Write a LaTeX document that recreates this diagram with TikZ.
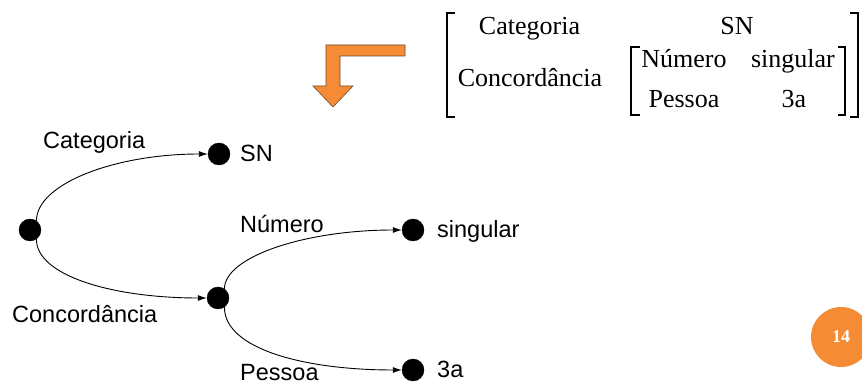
\documentclass[tikz,border=0pt]{standalone}
\usepackage{fontspec}
\setmainfont{Liberation Serif}
\newfontfamily\arialfont{Liberation Sans}
\usetikzlibrary{arrows.meta}
\definecolor{slideorange}{HTML}{F68B35}
\definecolor{arrowrim}{HTML}{6E4A2C}

\begin{document}
\begin{tikzpicture}[x=1pt,y=1pt,inner sep=0pt,
  dot/.style={circle,draw=black,fill=black,minimum size=22pt},
  lbl/.style={font=\arialfont\fontsize{23.5}{26}\selectfont,anchor=base west},
  avm/.style={font=\fontsize{26}{30}\selectfont,anchor=base},
  edge/.style={line width=0.9pt,-{Latex[length=9pt,width=6pt]}},
  brk/.style={line width=1.1pt}]
\useasboundingbox (0,0) rectangle (862,388);

\node at (30,158) [dot] (Root) {};
\node at (219,234) [dot] (SN) {};
\node at (218,90) [dot] (Mid) {};
\node at (413,158) [dot] (Sing) {};
\node at (413,18) [dot] (Third) {};
\node [lbl] at (240,226) {SN};
\node [lbl] at (437,150) {singular};
\node [lbl] at (437,10) {3a};
\node [lbl] at (43,239) {Categoria};
\node [lbl] at (12,65) {Concordância};
\node [lbl] at (240,155) {Número};
\node [lbl] at (240,7) {Pessoa};
\draw [edge] (Root.55) to[out=90,in=180,out distance=37pt,in distance=93pt] (SN.west);
\draw [edge] (Root.-55) to[out=-90,in=180,out distance=37pt,in distance=93pt] (Mid.west);
\draw [edge] (Mid.55) to[out=90,in=180,out distance=32pt,in distance=97pt] (Sing.west);
\draw [edge] (Mid.-55) to[out=-90,in=180,out distance=42pt,in distance=97pt] (Third.west);

\draw [fill=slideorange,draw=arrowrim,line width=0.6pt]
  (405,343) -- (326,343) -- (326,302) -- (313,302) -- (333,281)
  -- (353,302) -- (340,302) -- (340,332) -- (405,332) -- cycle;

\node [avm] at (529.5,353) (AvmCat) {Categoria};
\node [avm] at (737,353) (AvmSN) {SN};
\node [avm] at (530,301) (AvmConc) {Concordância};
\node [avm] at (684,320) (AvmNum) {Número};
\node [avm] at (793,320) (AvmSing) {singular};
\node [avm] at (684,280) (AvmPes) {Pessoa};
\node [avm] at (794,280) (AvmThird) {3a};
\draw [brk] (455,375) -- (447,375) -- (447,271) -- (455,271);
\draw [brk] (850,375) -- (858,375) -- (858,271) -- (850,271);
\draw [brk] (640,341) -- (631,341) -- (631,273) -- (640,273);
\draw [brk] (838,341) -- (845,341) -- (845,273) -- (838,273);

\node at (841,51) [circle,fill=slideorange,minimum size=60pt,text=white,
  font=\bfseries\fontsize{18}{20}\selectfont] (PageNum) {14};
\end{tikzpicture}
\end{document}
